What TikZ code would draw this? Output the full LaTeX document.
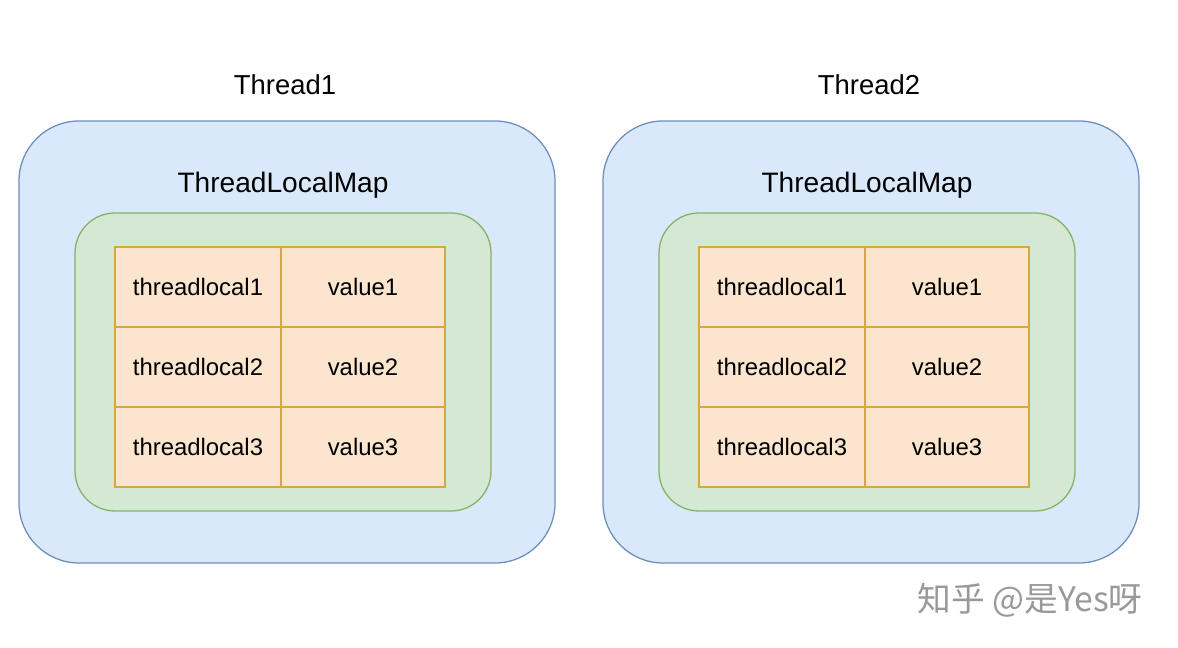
\documentclass[tikz,border=0pt]{standalone}
\usepackage{fontspec}
\setmainfont{Liberation Sans}
\newfontfamily\cjk{Noto Sans CJK SC}
\usepackage{tikz}
\usetikzlibrary{positioning}
\definecolor{threadfill}{HTML}{DAE8FC}
\definecolor{threadline}{HTML}{6C8EBF}
\definecolor{mapfill}{HTML}{D5E8D4}
\definecolor{mapline}{HTML}{82B366}
\definecolor{cellfill}{HTML}{FBE5CE}
\definecolor{cellline}{HTML}{D3A940}

\begin{document}
\begin{tikzpicture}[
  threadbox/.style={draw=threadline,fill=threadfill,line width=0.9pt,rounded corners=1.5cm,minimum width=13.4cm,minimum height=11.05cm},
  mapbox/.style={draw=mapline,fill=mapfill,line width=0.9pt,rounded corners=1cm,minimum width=10.4cm,minimum height=7.45cm},
  cell/.style={draw=cellline,fill=cellfill,line width=0.9pt,minimum height=2cm,inner sep=0pt,outer sep=0pt,font=\fontsize{17}{20}\selectfont},
  title/.style={font=\fontsize{19.5}{23}\selectfont}]
\useasboundingbox (0,0) rectangle (29.45,16.2);
\foreach \i/\dx in {1/0,2/14.6}{
  \begin{scope}[xshift=\dx cm]
    \node[threadbox] (thread\i) at (7.175,7.65) {};
    \node[title] (name\i) at (7.125,14.075) {Thread\i};
    \node[mapbox] (map\i) at (7.075,7.15) {};
    \node[title,font=\fontsize{20}{24}\selectfont] (maplabel\i) at (7.075,11.58) {ThreadLocalMap};
    % key / value rows
    \foreach \r in {1,2,3}{
      \node[cell,minimum width=4.15cm] (key\i\r) at (4.95,11.025-2*\r) {threadlocal\r};
      \node[cell,minimum width=4.1cm,right=0pt of key\i\r] (val\i\r) {value\r};
    }
  \end{scope}
}
\node[text=black!40,font=\cjk\fontsize{24}{28}\selectfont] (mark) at (25.75,1.2) {知乎 @是Yes呀};
\end{tikzpicture}
\end{document}
